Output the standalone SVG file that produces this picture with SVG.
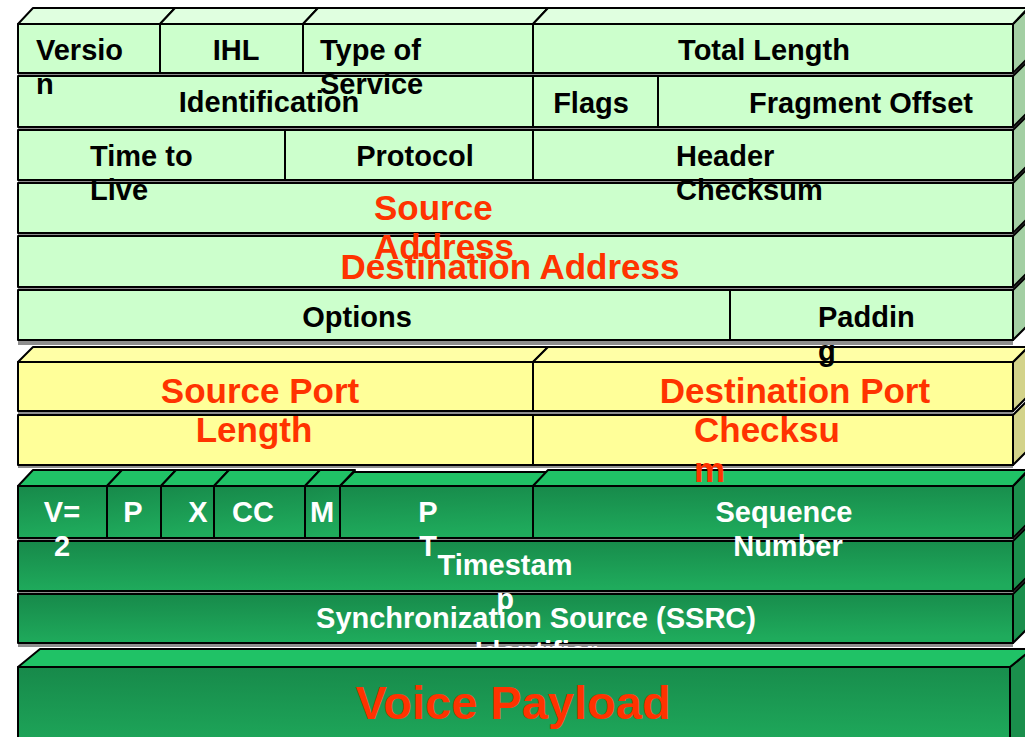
<svg xmlns="http://www.w3.org/2000/svg" width="1025" height="737" viewBox="0 0 1025 737">
  <defs>
    <linearGradient id="gFront" x1="0" y1="0" x2="0.15" y2="1">
      <stop offset="0" stop-color="#17894a"/>
      <stop offset="1" stop-color="#1fab5c"/>
    </linearGradient>
    <style>
      .edge { stroke: #000; stroke-width: 2; stroke-linejoin: round; }
      .ipF { fill: #ccffcc; }
      .ipT { fill: #e0ffe0; }
      .ipS { fill: #a3cfa3; }
      .yF { fill: #ffff99; }
      .yT { fill: #ffffa6; }
      .yS { fill: #d3d38a; }
      .gF { fill: url(#gFront); }
      .gT { fill: #20c266; }
      .gS { fill: #1a8f4c; }
      .plate { fill: #8e8e8e; }
      text { font-family: "Liberation Sans", Arial, Helvetica, sans-serif; font-weight: bold; }
      .tb { font-size: 29px; fill: #000; }
      .to { font-size: 35px; fill: #ff3300; }
      .tw { font-size: 29px; fill: #fff; }
      .tv { font-size: 47px; fill: #ff3300; }
      .mid { text-anchor: middle; }
    </style>
  </defs>

  <rect width="1025" height="737" fill="#fff"/>

  <!-- shadow plates showing through the gaps between stacked rows -->
  <g id="plates">
    <rect class="plate" x="18" y="24" width="995" height="321"/>
    <rect class="plate" x="18" y="362" width="995" height="106"/>
    <rect class="plate" x="18" y="486" width="995" height="161"/>
  </g>

  <g id="connectors"/>

  <!-- RTP header (drawn bottom row first so overflowing labels stay on top) -->
  <g id="rtp-ssrc">
    <polygon class="gS edge" points="1013,594 1028,579 1028,628 1013,643"/>
    <rect class="gF edge" x="18" y="594" width="995" height="49"/>
    <text class="tw mid" x="536" y="628">Synchronization Source (SSRC)</text>
    <text class="tw mid" x="536" y="662">Identifier</text>
  </g>
  <g id="rtp-timestamp">
    <polygon class="gS edge" points="1013,541 1028,526 1028,576 1013,591"/>
    <rect class="gF edge" x="18" y="541" width="995" height="50"/>
    <text class="tw mid" x="505" y="575">Timestam</text>
    <text class="tw mid" x="505" y="609">p</text>
  </g>
  <g id="rtp-row1">
    <polygon class="gS edge" points="1013,486 1028,471 1028,523 1013,538"/>
    <g id="rtp-v">
      <polygon class="gT edge" points="18,486 33,470 122,470 107,486"/>
      <rect class="gF edge" x="18" y="486" width="89" height="52"/>
      <text class="tw mid" x="62" y="522">V=</text>
      <text class="tw mid" x="62" y="556">2</text>
    </g>
    <g id="rtp-p">
      <polygon class="gT edge" points="107,486 122,470 176,470 161,486"/>
      <rect class="gF edge" x="107" y="486" width="54" height="52"/>
      <text class="tw mid" x="133" y="522">P</text>
    </g>
    <g id="rtp-x">
      <polygon class="gT edge" points="161,486 176,470 229,470 214,486"/>
      <rect class="gF edge" x="161" y="486" width="53" height="52"/>
      <text class="tw mid" x="198" y="522">X</text>
    </g>
    <g id="rtp-cc">
      <polygon class="gT edge" points="214,486 229,470 320,470 305,486"/>
      <rect class="gF edge" x="214" y="486" width="91" height="52"/>
      <text class="tw mid" x="253" y="522">CC</text>
    </g>
    <g id="rtp-m">
      <polygon class="gT edge" points="305,486 320,470 355,470 340,486"/>
      <rect class="gF edge" x="305" y="486" width="35" height="52"/>
      <text class="tw mid" x="322" y="522">M</text>
    </g>
    <g id="rtp-pt">
      <polygon class="gT edge" points="340,486 354,472 547,472 533,486"/>
      <rect class="gF edge" x="340" y="486" width="193" height="52"/>
      <text class="tw mid" x="428" y="522">P</text>
      <text class="tw mid" x="428" y="556">T</text>
    </g>
    <g id="rtp-seq">
      <polygon class="gT edge" points="533,486 548,470 1028,470 1013,486"/>
      <rect class="gF edge" x="533" y="486" width="480" height="52"/>
      <text class="tw mid" x="784" y="522">Sequence</text>
      <text class="tw mid" x="788" y="556">Number</text>
    </g>
  </g>

  <!-- UDP header -->
  <g id="udp-row2">
    <polygon class="yS edge" points="1013,415 1028,400 1028,450 1013,465"/>
    <g id="udp-length">
      <rect class="yF edge" x="18" y="415" width="515" height="50"/>
      <text class="to mid" x="254" y="442">Length</text>
    </g>
    <g id="udp-checksum">
      <rect class="yF edge" x="533" y="415" width="480" height="50"/>
      <text class="to" x="694" y="442">Checksu</text>
      <text class="to" x="694" y="482">m</text>
    </g>
  </g>
  <g id="udp-row1">
    <polygon class="yS edge" points="1013,362 1028,347 1028,396 1013,411"/>
    <g id="udp-srcport">
      <polygon class="yT edge" points="18,362 33,347 548,347 533,362"/>
      <rect class="yF edge" x="18" y="362" width="515" height="49"/>
      <text class="to mid" x="260" y="403">Source Port</text>
    </g>
    <g id="udp-dstport">
      <polygon class="yT edge" points="533,362 548,347 1028,347 1013,362"/>
      <rect class="yF edge" x="533" y="362" width="480" height="49"/>
      <text class="to mid" x="795" y="403">Destination Port</text>
    </g>
  </g>

  <!-- IP header -->
  <g id="ip-row6">
    <polygon class="ipS edge" points="1013,290 1028,275 1028,325 1013,340"/>
    <g id="ip-options">
      <rect class="ipF edge" x="18" y="290" width="712" height="50"/>
      <text class="tb mid" x="357" y="327">Options</text>
    </g>
    <g id="ip-padding">
      <rect class="ipF edge" x="730" y="290" width="283" height="50"/>
      <text class="tb" x="818" y="327">Paddin</text>
      <text class="tb" x="818" y="361">g</text>
    </g>
  </g>
  <g id="ip-dstaddr">
    <polygon class="ipS edge" points="1013,236 1028,221 1028,272 1013,287"/>
    <rect class="ipF edge" x="18" y="236" width="995" height="51"/>
    <text class="to mid" x="510" y="279">Destination Address</text>
  </g>
  <g id="ip-srcaddr">
    <polygon class="ipS edge" points="1013,183 1028,168 1028,218 1013,233"/>
    <rect class="ipF edge" x="18" y="183" width="995" height="50"/>
    <text class="to" x="374" y="220">Source</text>
    <text class="to" x="374" y="259">Address</text>
  </g>
  <g id="ip-row3">
    <polygon class="ipS edge" points="1013,130 1028,115 1028,165 1013,180"/>
    <g id="ip-ttl">
      <rect class="ipF edge" x="18" y="130" width="267" height="50"/>
      <text class="tb" x="90" y="166">Time to</text>
      <text class="tb" x="90" y="200">Live</text>
    </g>
    <g id="ip-protocol">
      <rect class="ipF edge" x="285" y="130" width="248" height="50"/>
      <text class="tb mid" x="415" y="166">Protocol</text>
    </g>
    <g id="ip-hdrchecksum">
      <rect class="ipF edge" x="533" y="130" width="480" height="50"/>
      <text class="tb" x="676" y="166">Header</text>
      <text class="tb" x="676" y="200">Checksum</text>
    </g>
  </g>
  <g id="ip-row2">
    <polygon class="ipS edge" points="1013,76 1028,61 1028,112 1013,127"/>
    <g id="ip-identification">
      <rect class="ipF edge" x="18" y="76" width="515" height="51"/>
      <text class="tb mid" x="269" y="112">Identification</text>
    </g>
    <g id="ip-flags">
      <rect class="ipF edge" x="533" y="76" width="125" height="51"/>
      <text class="tb mid" x="591" y="113">Flags</text>
    </g>
    <g id="ip-fragoffset">
      <rect class="ipF edge" x="658" y="76" width="355" height="51"/>
      <text class="tb mid" x="861" y="113">Fragment Offset</text>
    </g>
  </g>
  <g id="ip-row1">
    <polygon class="ipS edge" points="1013,24 1028,9 1028,58 1013,73"/>
    <g id="ip-version">
      <polygon class="ipT edge" points="18,24 33,8 175,8 160,24"/>
      <rect class="ipF edge" x="18" y="24" width="142" height="49"/>
      <text class="tb" x="36" y="60">Versio</text>
      <text class="tb" x="36" y="94">n</text>
    </g>
    <g id="ip-ihl">
      <polygon class="ipT edge" points="160,24 175,8 318,8 303,24"/>
      <rect class="ipF edge" x="160" y="24" width="143" height="49"/>
      <text class="tb mid" x="236" y="60">IHL</text>
    </g>
    <g id="ip-tos">
      <polygon class="ipT edge" points="303,24 318,8 548,8 533,24"/>
      <rect class="ipF edge" x="303" y="24" width="230" height="49"/>
      <text class="tb" x="320" y="60">Type of</text>
      <text class="tb" x="320" y="94">Service</text>
    </g>
    <g id="ip-totallength">
      <polygon class="ipT edge" points="533,24 548,8 1028,8 1013,24"/>
      <rect class="ipF edge" x="533" y="24" width="480" height="49"/>
      <text class="tb mid" x="764" y="60">Total Length</text>
    </g>
  </g>

  <!-- payload block sits in front of the RTP stack -->
  <g id="voice-payload">
    <polygon class="gS edge" points="1010,667 1032,649 1032,760 1010,760"/>
    <polygon class="gT edge" points="18,667 40,649 1032,649 1010,667"/>
    <rect class="gF edge" x="18" y="667" width="992" height="90"/>
    <text class="tv mid" x="513" y="719">Voice Payload</text>
  </g>
</svg>
